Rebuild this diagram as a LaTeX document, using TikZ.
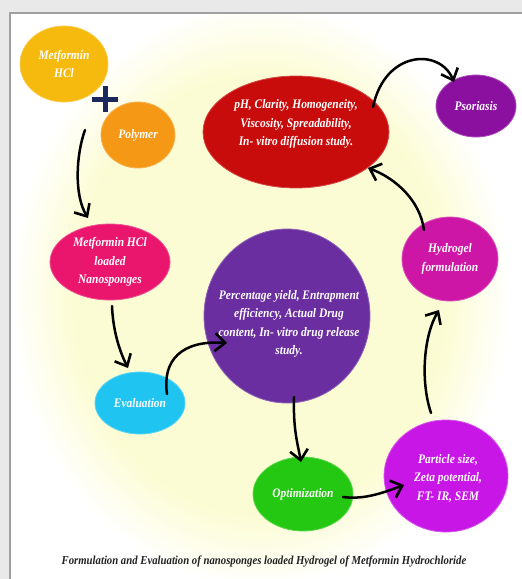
\documentclass[tikz,border=0pt]{standalone}
\usepackage{fontspec}
\setmainfont{Liberation Serif}[FakeStretch=0.88]
\usetikzlibrary{shapes.geometric,arrows.meta,calc}
\definecolor{bggray}{RGB}{233,233,233}
\definecolor{framegray}{RGB}{160,160,160}
\definecolor{bgyel}{RGB}{252,252,212}
\definecolor{cGold}{RGB}{246,186,14}
\definecolor{cOrange}{RGB}{245,152,22}
\definecolor{cPink}{RGB}{234,22,110}
\definecolor{cCyan}{RGB}{32,196,240}
\definecolor{cPurple}{RGB}{106,46,160}
\definecolor{cGreen}{RGB}{36,200,18}
\definecolor{cViolet}{RGB}{200,22,230}
\definecolor{cFuchsia}{RGB}{205,22,165}
\definecolor{cRed}{RGB}{200,12,12}
\definecolor{cPso}{RGB}{140,16,160}
\definecolor{cNavy}{RGB}{26,40,92}
\definecolor{capcol}{RGB}{34,34,34}
\pgfdeclareradialshading{glow}{\pgfpoint{0bp}{0bp}}{color(0bp)=(bgyel); color(18bp)=(bgyel); color(24bp)=(white); color(50bp)=(white)}
\tikzset{
  nodefont/.style={font=\fontsize{13}{18.5}\selectfont\bfseries\itshape},
  blob/.style={ellipse, inner sep=0pt, fill=#1, draw=#1!75!white, line width=0.8pt,
    text=white, align=center, nodefont},
  overtext/.style={text=white, align=center, nodefont, inner sep=0pt},
  flow/.style={line width=2.5pt, black, line cap=round,
    -{Straight Barb[length=10pt,width=18pt,line width=2.6pt]}},
}
\begin{document}
\begin{tikzpicture}[x=1pt,y=-1pt]
\useasboundingbox (0,0) rectangle (522,579);
\fill[bggray] (0,0) rectangle (522,579);
\fill[white] (10,13) rectangle (530,590);
\begin{scope}
\clip (10,13) rectangle (530,590);
\shade[shading=glow] (0,-10) rectangle (520,600);
\end{scope}
\draw[framegray, line width=1.2pt] (530,13) -- (10,13) -- (10,590);

% nodes
\node[blob=cGold, minimum width=88pt, minimum height=76pt] (mhcl) at (64,64) {Metformin\\HCl};
\node[blob=cOrange, minimum width=74pt, minimum height=66pt] (poly) at (138,135) {Polymer};
\node[minimum size=26pt, inner sep=0pt,
  path picture={\draw[cNavy, line width=5pt] (path picture bounding box.north) -- (path picture bounding box.south)
    (path picture bounding box.west) -- (path picture bounding box.east);}] (plus) at (105,99) {};
\node[blob=cPink, minimum width=120pt, minimum height=76pt] (nano) at (110,262) {Metformin HCl\\loaded\\Nanosponges};
\node[blob=cCyan, minimum width=90pt, minimum height=62pt] (eval) at (140,403) {Evaluation};
\node[blob=cPurple, minimum width=166pt, minimum height=174pt] (eff) at (287,316) {};
\node[overtext] (efftxt) at (289,324)
  {Percentage yield, Entrapment\\efficiency, Actual Drug\\content, In- vitro drug release\\study.};
\node[blob=cGreen, minimum width=100pt, minimum height=74pt] (opt) at (303,494) {Optimization};
\node[blob=cViolet, minimum width=124pt, minimum height=112pt] (part) at (446,476) {};
\node[overtext] (parttxt) at (448,478) {Particle size,\\Zeta potential,\\FT- IR, SEM};
\node[blob=cFuchsia, minimum width=96pt, minimum height=84pt] (hyd) at (450,259) {Hydrogel\\formulation};
\node[blob=cRed, minimum width=186pt, minimum height=112pt] (red) at (296,132) {};
\node[overtext] (redtxt) at (296,124)
  {pH, Clarity, Homogeneity,\\Viscosity, Spreadability,\\In- vitro diffusion study.};
\node[blob=cPso, minimum width=80pt, minimum height=62pt] (pso) at (476,106) {Psoriasis};

% connectors
\draw[flow] ([shift={(21,66)}]mhcl.center) .. controls (76,155) and (74,195) .. ([shift={(-22,-44)}]nano.center);
\draw[flow] ([shift={(2,44)}]nano.center) .. controls (113,330) and (119,350) .. ([shift={(-12,-35)}]eval.center);
\draw[flow] ([shift={(27,-9)}]eval.center) .. controls (162,360) and (182,340) .. ([shift={(-60,27)}]eff.center);
\draw[flow] ([shift={(7,81)}]eff.center) .. controls (293,430) and (298,445) .. ([shift={(-2,-32)}]opt.center);
\draw[flow] ([shift={(40,3)}]opt.center) .. controls (365,500) and (385,492) .. ([shift={(-42,9)}]part.center);
\draw[flow] ([shift={(-15,-63)}]part.center) .. controls (420,380) and (424,335) .. ([shift={(-11,51)}]hyd.center);
\draw[flow] ([shift={(-26,-29)}]hyd.center) .. controls (420,200) and (395,178) .. ([shift={(72,36)}]red.center);
\draw[flow] ([shift={(77,-25)}]red.center) .. controls (385,50) and (440,48) .. ([shift={(-22,-24)}]pso.center);

% caption
\node[text=capcol, font=\fontsize{12.2}{14}\selectfont\bfseries\itshape, inner sep=0pt] (cap) at (264,562)
  {Formulation and Evaluation of nanosponges loaded Hydrogel of Metformin Hydrochloride};
\end{tikzpicture}
\end{document}
